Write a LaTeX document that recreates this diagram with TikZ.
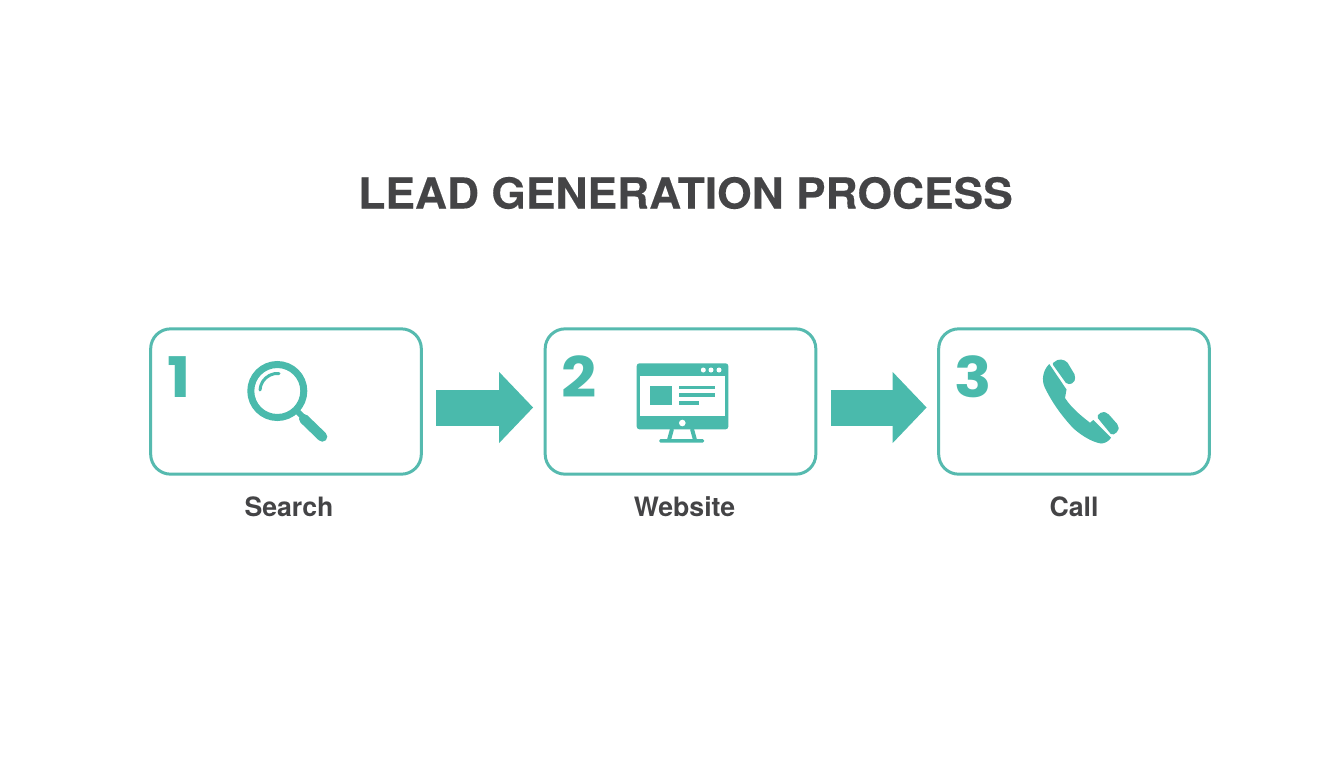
\documentclass[tikz,border=0pt]{standalone}
\usepackage{xcolor}
\usepackage{fontspec}
\setmainfont{TeX Gyre Heros}
\newfontfamily\titlefont[FakeStretch=1.04,FakeBold=0.3]{TeX Gyre Heros Bold}
\newfontfamily\digitfont[FakeStretch=1.1]{Poppins Bold}
\usetikzlibrary{arrows.meta}
\definecolor{tealline}{RGB}{86,186,175}
\definecolor{tealfill}{RGB}{74,186,172}
\definecolor{darktext}{RGB}{68,68,70}
\tikzset{
  stepbox/.style={draw=tealline,line width=2.25pt,rounded corners=15pt,minimum width=203pt,minimum height=109pt,inner sep=0pt,outer sep=0pt,fill=white},
  stepnum/.style={text=tealfill,inner sep=0pt,font=\digitfont\fontsize{42}{42}\selectfont},
  steplabel/.style={text=darktext,inner sep=0pt,font=\bfseries\fontsize{20}{20}\selectfont},
  blockarrow/.style={draw=tealfill,line width=27pt,-{Triangle[length=25.5pt,width=51.75pt]},shorten <=11.25pt,shorten >=9pt},
}
\begin{document}
\begin{tikzpicture}[x=0.75pt,y=0.75pt,yscale=-1,xscale=1]
\useasboundingbox (0,0) rectangle (1344,768);

% Title
\draw (685.5,193) node [inner sep=0pt,text=darktext,font=\titlefont\fontsize{32}{32}\selectfont] (title) {LEAD GENERATION PROCESS};

% Boxes
\draw (286,401.5) node [stepbox] (search) {};
\draw (680.5,401.5) node [stepbox] (website) {};
\draw (1074,401.5) node [stepbox] (call) {};

% Numbers
\draw (179,377) node [stepnum] (numone) {1};
\draw (579,377) node [stepnum] (numtwo) {2};
\draw (973,377) node [stepnum] (numthree) {3};

% Labels
\draw (289,507) node [steplabel] (labelsearch) {Search};
\draw (684.5,507) node [steplabel] (labelwebsite) {Website};
\draw (1074,507) node [steplabel] (labelcall) {Call};

% Connection
\draw [blockarrow] ([yshift=4.5pt]search.east) -- ([yshift=4.5pt]website.west);
\draw [blockarrow] ([yshift=4.5pt]website.east) -- ([yshift=4.5pt]call.west);

% Magnifier
\draw [tealfill,line width=5.25pt] (277.3,391) circle (26.5);
\draw [tealfill,line width=2.25pt,line cap=round] (260,390) arc (183:275:17.5);
\draw [tealfill,line width=4.5pt] (296,410) -- (305,419);
\draw [tealfill,line width=7.5pt,line cap=round] (304,419) -- (322.3,436.7);

% Monitor
\fill [tealfill,rounded corners=2pt] (636.7,363.3) rectangle (728.3,429.3);
\fill [white] (640,376) rectangle (725,415.7);
\foreach \dotx in {703.3,711,719}
  \fill [white] (\dotx,370) circle (2.5);
\fill [tealfill] (650.3,385.7) rectangle (672,405.3);
\fill [tealfill] (679,385.7) rectangle (715,389.3);
\fill [tealfill] (679,393) rectangle (715,397.3);
\fill [tealfill] (679,401) rectangle (699,404.7);
\fill [white] (682.3,423) circle (3.3);
\draw [tealfill,line width=3pt] (672,429) -- (669,440) (692,429) -- (695,440);
\fill [tealfill,rounded corners=1pt] (659.3,439) rectangle (704,442.7);

% Phone
\fill [tealfill] (1049.3,364) .. controls (1043,370) and (1041,380) .. (1045,388) .. controls (1050,398) and (1058,412) .. (1073.3,428.3) .. controls (1082,436) and (1092,442) .. (1101,443.5) .. controls (1105,443.5) and (1109,441) .. (1111,437.7) -- (1093.3,420) -- (1090,422.7) .. controls (1084,418) and (1072,409) .. (1065,398) -- (1066.5,389.5) -- cycle;
\fill [tealfill,rounded corners=1.5pt] (1052,363.5) -- (1059,359) -- (1066.5,361) -- (1075.5,376) -- (1074,383) -- (1067,384.5) -- cycle;
\fill [tealfill,rounded corners=1.5pt] (1096.5,416.5) -- (1102,411.5) -- (1107.5,413) -- (1118.5,425.5) -- (1118.5,431) -- (1112,435.5) -- cycle;

\end{tikzpicture}
\end{document}
